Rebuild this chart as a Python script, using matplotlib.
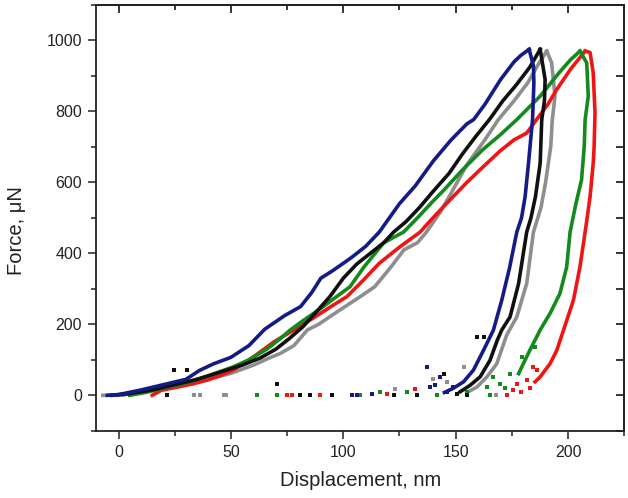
import matplotlib
matplotlib.use("Agg")
import matplotlib.pyplot as plt
from matplotlib.ticker import MultipleLocator

plt.rcParams['font.family'] = ['Liberation Sans', 'DejaVu Sans']

# Nanoindentation load-displacement curves (force in uN, displacement in nm)
# loading branches
blue_load_x = [-5, 0, 10, 20, 30, 36, 42, 50, 58, 65, 74, 81, 86, 90, 95, 100, 104, 110, 116, 125, 132, 140, 148, 155, 158, 163, 170, 176, 179, 182.7]
blue_load_y = [0, 2, 15, 30, 45, 70, 88, 107, 140, 186, 225, 250, 290, 330, 350, 372, 390, 420, 460, 540, 590, 660, 720, 765, 777, 820, 890, 940, 958, 975]
black_load_x = [-3, 5, 15, 25, 35, 45, 55, 63, 70, 76, 82, 88, 94, 100, 106, 112, 118, 122.4, 128, 134, 140, 147, 153, 159, 165, 171, 177, 183, 187.6]
black_load_y = [0, 5, 15, 30, 45, 65, 85, 105, 130, 160, 193, 235, 278, 330, 370, 400, 430, 460, 490, 530, 575, 625, 680, 730, 777, 830, 875, 925, 975]
gray_load_x = [-7, 0, 10, 20, 30, 40, 50, 60, 67, 72, 78, 84, 89, 96, 102, 108, 114, 121, 127, 133, 137, 143, 148, 155, 163, 169, 176, 182, 187, 190.5]
gray_load_y = [0, 0, 8, 20, 32, 45, 62, 85, 105, 118, 140, 184, 200, 230, 255, 280, 306, 360, 410, 430, 460, 515, 570, 650, 720, 777, 830, 880, 935, 970]
green_load_x = [5, 12, 20, 30, 40, 51, 58, 66, 72, 76.4, 82, 90, 97, 103, 109, 118, 126.8, 133, 139, 145, 153, 162, 170, 177.2, 187.6, 196, 201, 205.3]
green_load_y = [0, 8, 20, 35, 55, 80, 100, 130, 160, 184, 210, 245, 278, 306, 360, 430, 460, 500, 541, 580, 635, 692, 735, 777, 843, 909, 945, 970]
red_load_x = [15, 19, 26, 33, 39, 45, 51, 60, 69, 78, 86, 94, 101.6, 109, 116, 125.3, 134.2, 139, 146, 155, 162.4, 170, 176, 181.6, 186, 191, 195, 201, 207.6]
red_load_y = [0, 14, 23, 32, 42, 55, 71, 108, 150, 184, 215, 248, 278, 325, 372, 419, 460, 494, 541, 600, 645, 690, 720, 739, 777, 820, 862, 918, 970]

# unloading branches
blue_unl_x = [182.7, 184.6, 184.8, 184.2, 182.4, 180.9, 179.3, 177.2, 174, 170.5, 166.8, 162.4, 157.9, 153.5, 149, 145]
blue_unl_y = [975, 928, 880, 777, 654, 560, 500, 460, 360, 268, 184, 127, 71, 38, 20, 8]
black_unl_x = [187.6, 189.8, 189.5, 188.3, 187.6, 185.5, 183.5, 181.6, 178, 174.2, 170.5, 168.5, 165.3, 160.9, 156.4, 152]
black_unl_y = [975, 890, 830, 777, 654, 560, 500, 460, 315, 221, 184, 155, 99, 52, 28, 10]
gray_unl_x = [190.5, 192.7, 194.2, 193, 192.3, 190, 188, 184.6, 181.6, 177.2, 172.7, 168.3, 163.9, 159.4, 155]
gray_unl_y = [970, 937, 843, 777, 701, 600, 530, 460, 315, 221, 170, 89, 52, 23, 8]
green_unl_x = [205.3, 208.3, 209, 207.6, 207.2, 206, 203.5, 200.9, 199.4, 196.4, 192, 187.6, 183, 180.1, 178]
green_unl_y = [970, 937, 843, 777, 701, 607, 540, 460, 362, 287, 231, 184, 127, 89, 61]
red_unl_x = [207.6, 209.8, 211.2, 212, 211.6, 211.2, 209.8, 208.5, 207.6, 205.3, 202.4, 198, 195, 192, 187.6, 185.3]
red_unl_y = [970, 966, 909, 796, 700, 654, 560, 500, 460, 362, 268, 184, 127, 89, 52, 38]

# loose points around zero force
blue_pts_x = [104, 106, 112.7, 137.2, 138.7, 143, 146, 149, 141]
blue_pts_y = [0, 0, 3, 80, 23, 52, 10, 23, 30]
black_pts_x = [21.6, 24.6, 30.5, 70.5, 85.3, 95, 122.4, 132.7, 150.5, 159.4, 162.4, 80.9, 145, 155]
black_pts_y = [0, 70, 70, 33, 0, 0, 2, 2, 5, 165, 165, 0, 60, 0]
gray_pts_x = [2, 5, 33.5, 36.4, 46.8, 48, 123, 146, 153.5, 140, 168]
gray_pts_y = [0, 0, 0, 0, 0, 0, 18, 38, 80, 45, 0]
green_pts_x = [61.6, 70.5, 107.6, 116.4, 128.3, 141.6, 155, 163.9, 165.3, 166.8, 169.8, 174.2, 179.4, 185.3, 172]
green_pts_y = [0, 2, 0, 10, 10, 0, 8, 23, 0, 52, 33, 61, 108, 136, 20]
red_pts_x = [75, 77, 89.8, 119.4, 132, 172.7, 175.7, 177.2, 181.6, 184.6, 186, 179, 183]
red_pts_y = [0, 0, 0, 3, 18, 0, 14, 33, 42, 80, 71, 10, 20]

colors = {'gray': '#8e8e8e', 'red': '#f01515', 'green': '#138a1c',
          'black': '#101010', 'blue': '#141a88'}

fig = plt.figure(figsize=(6.28, 4.98), dpi=100)
ax = fig.add_axes([0.153, 0.135, 0.841, 0.855])

series = [
    ('gray', gray_load_x, gray_load_y, gray_unl_x, gray_unl_y, gray_pts_x, gray_pts_y),
    ('red', red_load_x, red_load_y, red_unl_x, red_unl_y, red_pts_x, red_pts_y),
    ('green', green_load_x, green_load_y, green_unl_x, green_unl_y, green_pts_x, green_pts_y),
    ('black', black_load_x, black_load_y, black_unl_x, black_unl_y, black_pts_x, black_pts_y),
    ('blue', blue_load_x, blue_load_y, blue_unl_x, blue_unl_y, blue_pts_x, blue_pts_y),
]
for name, lx, ly, ux, uy, px, py in series:
    c = colors[name]
    ax.plot(lx, ly, color=c, lw=2.6, solid_joinstyle='round')
    ax.plot(ux, uy, color=c, lw=2.6, solid_joinstyle='round')
    ax.plot(px, py, 's', color=c, ms=2.6, mew=0, ls='none')

ax.set_xlim(-10, 225)
ax.set_ylim(-100, 1100)
ax.xaxis.set_major_locator(MultipleLocator(50))
ax.xaxis.set_minor_locator(MultipleLocator(25))
ax.yaxis.set_major_locator(MultipleLocator(200))
ax.yaxis.set_minor_locator(MultipleLocator(100))
ax.tick_params(which='both', direction='out', width=1.1, labelsize=11.5,
               colors='#222222', pad=4)
ax.tick_params(which='major', length=6)
ax.tick_params(which='minor', length=3.5)

# mirrored top and right axes with inward ticks
top = ax.secondary_xaxis('top')
top.xaxis.set_major_locator(MultipleLocator(50))
top.xaxis.set_minor_locator(MultipleLocator(25))
top.tick_params(which='both', direction='in', labeltop=False, width=1.1)
top.tick_params(which='major', length=6)
top.tick_params(which='minor', length=3.5)
right = ax.secondary_yaxis('right')
right.yaxis.set_major_locator(MultipleLocator(200))
right.yaxis.set_minor_locator(MultipleLocator(100))
right.tick_params(which='both', direction='in', labelright=False, width=1.1)
right.tick_params(which='major', length=6)
right.tick_params(which='minor', length=6)

for s in list(ax.spines.values()) + [top.spines['top'], right.spines['right']]:
    s.set_linewidth(1.3)
    s.set_color('#222222')

ax.set_xlabel('Displacement, nm', fontsize=14.5, color='#222222', labelpad=8)
ax.set_ylabel('Force, \u03bcN', fontsize=14.5, color='#222222')
ax.yaxis.set_label_coords(-0.133, 0.47)

fig.savefig('out.png', dpi=100, facecolor='white')
